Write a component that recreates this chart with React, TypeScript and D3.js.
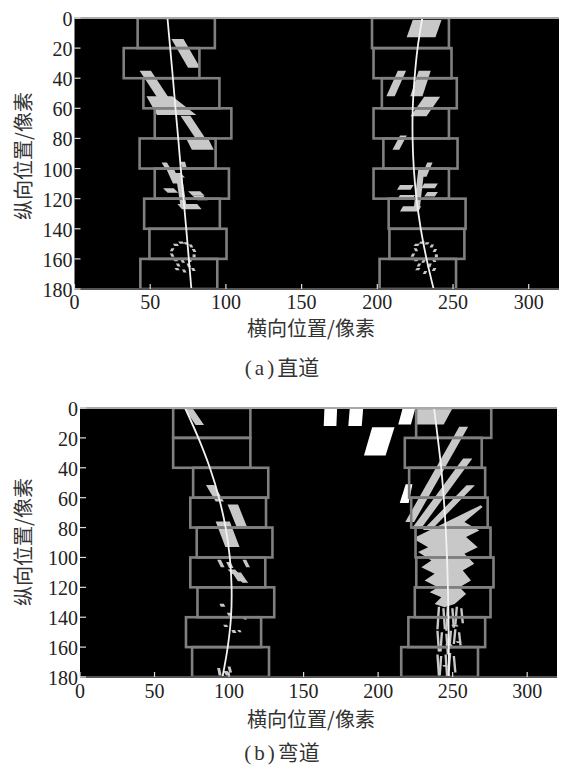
import React from "react";
import * as d3 from "d3";

const W = 562;
const H = 768;

const xTicks = [0, 50, 100, 150, 200, 250, 300];
const yTicks = [0, 20, 40, 60, 80, 100, 120, 140, 160, 180];
const windowTops = [0, 20, 40, 60, 80, 100, 120, 140, 160];
const fitY = [0, 20, 40, 60, 80, 100, 120, 140, 160, 180];

// (a) straight road: sliding windows, left / right edge per row
const straightLeftBoxL = [41.7, 32.5, 45.5, 53, 43, 53, 46, 49.5, 43.5];
const straightLeftBoxR = [92.7, 82.5, 95.7, 103.6, 93.2, 102, 96, 100.4, 94.3];
const straightRightBoxL = [196.5, 197.5, 203, 197.5, 204, 197.5, 207.5, 208, 201.5];
const straightRightBoxR = [247.3, 249, 252.5, 247.3, 253, 247.3, 258.3, 257.5, 252];
const straightLeftFit = [61.4, 63.2, 65, 66.7, 68.5, 70.2, 72, 73.8, 75.5, 77.2];
const straightRightFit = [229.7, 226.6, 224.6, 223.4, 223.3, 224.1, 225.9, 228.7, 232.5, 237.2];

// lane pixel blobs: [x, y, topWidth, height, shift, bottomWidth?]
const straightPixels = [
  [64, 14, 8, 19, 11],
  [43, 35, 7.5, 23, 15],
  [47.5, 52, 17, 12.5, 7, 26],
  [70, 65, 6.5, 15, 10],
  [73.5, 79.5, 14.5, 8, 4],
  [57.5, 96, 3.5, 5, 3],
  [70, 95.5, 3, 3.5, 1],
  [61, 101, 5, 9, 4],
  [64, 103, 6, 3, 3],
  [58.5, 113, 7, 3, 3],
  [67, 105, 4, 20, 3],
  [75, 115, 8, 3, 3],
  [78, 118, 7, 3, 3],
  [68, 123.5, 13, 3.5, 3],
  [65, 150, 3, 1.5, 1], [68.5, 148.5, 3, 1.5, 1], [72, 149, 2.5, 1.5, 1],
  [75.5, 150.5, 2, 2, 1], [77.5, 153.5, 2, 2, 1], [78, 157, 2, 2, 0],
  [64, 153, 2, 2, -1], [63, 156.5, 2, 2, 1], [65, 160, 2.5, 1.5, 1],
  [76, 160, 2, 2, -1], [70, 160.5, 2, 2, 1], [67, 163, 2, 2, 1],
  [74, 163, 2, 2.5, 1], [66, 166, 2.5, 1.5, 1], [77, 166, 2, 2, 1], [71, 167, 2, 2, 1],
  [223.4, 1.3, 19, 11.5, -4],
  [213.5, 35, 5.5, 17, -7.5],
  [227.3, 35, 8, 17, -5.5],
  [231, 52.3, 10.5, 13, -9],
  [215, 78, 4.5, 9.5, -5],
  [233, 96, 3.5, 9.5, -4],
  [215, 111, 9, 3, -2],
  [231, 110, 9, 3, -2],
  [215, 117.5, 10, 3, -2],
  [227, 101, 4, 26, -3],
  [217, 125, 12, 3.5, -2],
  [233, 115.5, 7, 3, -2],
  [225, 150, 3, 1.5, -1], [228.5, 148.5, 3, 1.5, -1], [232, 149, 2.5, 1.5, -1],
  [235.5, 150.5, 2, 2, -1], [237.5, 153.5, 2, 2, -1], [238, 157, 2, 2, 0],
  [224, 153, 2, 2, 1], [223, 156.5, 2, 2, -1], [225, 160, 2.5, 1.5, -1],
  [236, 160, 2, 2, 1], [230, 160.5, 2, 2, -1], [227, 163, 2, 2, -1],
  [234, 163, 2, 2.5, -1], [226, 166, 2.5, 1.5, -1], [237, 166, 2, 2, -1], [231, 168, 2, 2, -1],
];

// (b) curved road
const curveLeftBoxL = [62.5, 62.5, 75.9, 74, 78.3, 74, 78.8, 71.1, 75.2];
const curveLeftBoxR = [114.3, 114.3, 126.3, 124.8, 129.1, 124.3, 130.3, 121.5, 126.8];
const curveRightBoxL = [225.5, 217.9, 220.8, 222.2, 225.1, 225.6, 224.6, 220.3, 215.5];
const curveRightBoxR = [275.9, 269.5, 271.8, 273.5, 275.4, 277.4, 275.4, 271.8, 267];
const curveLeftFit = [70.5, 79.4, 87.1, 93.2, 97.7, 100.5, 101.7, 101.3, 99.1, 95.6];
const curveRightFit = [237.5, 240, 242.3, 244, 245.3, 246.2, 246.8, 247.2, 247.4, 247.5];

const curvePixels = [
  [69.8, 0, 5.6, 11.4, 7.8],
  [84.5, 51.5, 5.5, 11, 6.5],
  [99, 64.5, 7, 15, 6],
  [91, 76, 9.5, 17, 6.5],
  [92, 101.5, 2.5, 5, 2.5],
  [98, 103, 3, 4, 2],
  [109, 101.5, 2.5, 5, 2.5],
  [99, 108, 5, 3, 3],
  [102, 110, 6, 6, 4],
  [106, 114, 4, 3, 3],
  [93.5, 131, 3, 2, 1], [98.5, 137, 2.5, 2, 1], [96, 145, 2.5, 1.5, 1],
  [101.5, 148.5, 2.5, 2, 1], [105.5, 148.5, 2, 1.5, 1], [109, 139.5, 2, 2, 1],
  [92, 174, 2, 5, 1], [96, 176, 3, 3, 2], [99, 173, 2, 4, 1],
  [225, 0, 25, 11, 1, 18],
  [254.4, 12.5, 6, 63.8, -36.2],
  [257, 33.8, 6.2, 47, -34.5],
  [259.3, 51.7, 5.6, 30, -29.3],
  [240, 133, 1.6, 15, -1], [243, 134, 1.6, 14, 1], [246, 133, 1.6, 16, -1],
  [249, 134, 1.6, 13, 1], [252, 133, 1.6, 12, -1], [255, 134, 1.6, 10, 1],
  [239, 149, 1.6, 14, 1], [242, 150, 1.6, 13, -1], [245, 151, 1.6, 14, 1],
  [248, 149, 1.6, 12, -1], [251, 148, 1.6, 10, -1], [253.5, 150, 1.6, 9, 1],
  [239, 165, 1.6, 14, 1], [241.5, 166, 1.6, 13, -1], [244.5, 165, 1.6, 15, 1],
  [247.5, 164, 1.6, 12, -1], [250, 166, 1.6, 11, 1],
  [241, 140, 4, 1.2, 1], [249, 145, 4, 1.2, 1], [245, 158, 4, 1.2, 1], [252, 156, 3, 1.2, 1], [243, 172, 3, 1.2, 1],
];
const curveWhitePixels = [
  [164, 0, 8.5, 12, -0.5],
  [181, 0, 9, 12, -1],
  [216.5, 0, 8.5, 11, -3],
  [196, 12.8, 15, 19, -5.5, 14.5],
  [218.5, 51, 4.5, 12.5, -4, 6],
];
// the big saw-toothed blob of the right lane
const curveMass = [
  [268.9, 65], [270.1, 66.2], [257.9, 76.3], [267.9, 81.9], [259, 86.4], [266.8, 93.1],
  [257.9, 97.5], [264.5, 104.2], [256.8, 108.7], [262.3, 115.4], [254.6, 119.9], [259, 124.4],
  [251.3, 131.1], [244.6, 133.3], [237.9, 131.1], [242.4, 126.6], [234.6, 123.3], [240.1, 119.9],
  [231.2, 115.4], [237.9, 110.9], [229, 106.5], [235.7, 102], [226.8, 96.4], [233.5, 93.1],
  [225.7, 88.6], [226, 86],
];

const quad = (p, xs, ys) => {
  const [x, y, w, h, s, wb = w] = p;
  return [
    [x, y], [x + w, y], [x + s + wb, y + h], [x + s, y + h],
  ].map(([a, b]) => `${xs(a)},${ys(b)}`).join(" ");
};

const serif = "'Liberation Serif', 'Times New Roman', 'DejaVu Serif'";
const cjk = "'Noto Sans CJK SC', sans-serif";

const Panel = ({ x0, x1, y0, y1, lanes, fits, pixels, whites, mass, yLabelY, tickY, titleY, capY, tag, caption }) => {
  const xs = d3.scaleLinear().domain([0, 320]).range([x0, x1]);
  const ys = d3.scaleLinear().domain([0, 180]).range([y0, y1]);
  const line = d3.line().x((d) => xs(d[0])).y((d) => ys(d[1])).curve(d3.curveCatmullRom);
  const clipId = `clip-${tag}`;
  return (
    <g>
      <defs>
        <clipPath id={clipId}>
          <rect x={x0} y={y0} width={x1 - x0} height={y1 - y0} />
        </clipPath>
      </defs>
      <rect x={x0} y={y0} width={x1 - x0} height={y1 - y0} fill="#000" />
      <g clipPath={`url(#${clipId})`}>
        <g filter="url(#soft)">
          {pixels.map((p, i) => (
            <polygon key={"p" + i} points={quad(p, xs, ys)} fill="#c8c8c8" />
          ))}
          {mass && (
            <polygon points={mass.map((d) => `${xs(d[0])},${ys(d[1])}`).join(" ")} fill="#c8c8c8" />
          )}
          {whites && whites.map((p, i) => (
            <polygon key={"w" + i} points={quad(p, xs, ys)} fill="#ffffff" />
          ))}
          {lanes.map(([L, R], li) =>
            windowTops.map((t, i) => (
              <rect
                key={`b${li}-${i}`}
                x={xs(L[i])}
                y={ys(t)}
                width={xs(R[i]) - xs(L[i])}
                height={ys(t + 20) - ys(t)}
                fill="none"
                stroke="#808080"
                strokeWidth={2.6}
              />
            ))
          )}
          {fits.map((f, i) => (
            <path key={"f" + i} d={line(f.map((v, j) => [v, fitY[j]]))} fill="none" stroke="#f2f2f2" strokeWidth={1.8} />
          ))}
        </g>
      </g>
      <line x1={x0} x2={x1} y1={y0} y2={y0} stroke="#aaa" strokeWidth={2} />
      <line x1={x0} x2={x1} y1={y1} y2={y1} stroke="#555" strokeWidth={2} />
      {xTicks.map((t) => (
        <g key={"xt" + t}>
          <line x1={xs(t)} x2={xs(t)} y1={y1} y2={y1 - 5} stroke="#ddd" strokeWidth={1.2} />
          <text x={xs(t)} y={tickY} textAnchor="middle" fontFamily={serif} fontSize={20} fill="#222">{t}</text>
        </g>
      ))}
      {yTicks.map((t) => (
        <g key={"yt" + t}>
          <line x1={x0} x2={x0 + 6} y1={ys(t)} y2={ys(t)} stroke="#ddd" strokeWidth={1.2} />
          <text x={x0 - 2} y={ys(t) + 1} textAnchor="end" dominantBaseline="central" fontFamily={serif} fontSize={20} fill="#222">{t}</text>
        </g>
      ))}
      <text
        transform={`translate(22,${yLabelY}) rotate(-90)`}
        textAnchor="middle"
        dominantBaseline="central"
        fontFamily={cjk}
        fontSize={20}
        fill="#333"
      >
        纵向位置/像素
      </text>
      <text x={311} y={capY} textAnchor="middle" fontFamily={cjk} fontSize={20} fill="#333">
        横向位置/像素
      </text>
      <text x={282} y={titleY} textAnchor="middle" fontFamily={`${serif}, ${cjk}`} fontSize={21} fill="#333">
        <tspan letterSpacing={3}>({tag})</tspan>
        <tspan fontFamily={cjk}>{caption}</tspan>
      </text>
    </g>
  );
};

export default function App() {
  return (
    <svg width={W} height={H} style={{ position: "absolute", left: 0, top: 0, background: "#fff" }}>
      <defs>
        <filter id="soft" x="-5%" y="-5%" width="110%" height="110%">
          <feGaussianBlur stdDeviation={0.6} />
        </filter>
      </defs>
      <Panel
        tag="a"
        caption="直道"
        x0={74.5}
        x1={559}
        y0={18}
        y1={289}
        lanes={[[straightLeftBoxL, straightLeftBoxR], [straightRightBoxL, straightRightBoxR]]}
        fits={[straightLeftFit, straightRightFit]}
        pixels={straightPixels}
        whites={null}
        mass={null}
        yLabelY={156}
        tickY={309}
        capY={336}
        titleY={375}
      />
      <Panel
        tag="b"
        caption="弯道"
        x0={80}
        x1={557}
        y0={408}
        y1={677}
        lanes={[[curveLeftBoxL, curveLeftBoxR], [curveRightBoxL, curveRightBoxR]]}
        fits={[curveLeftFit, curveRightFit]}
        pixels={curvePixels}
        whites={curveWhitePixels}
        mass={curveMass}
        yLabelY={542}
        tickY={698}
        capY={727}
        titleY={760}
      />
    </svg>
  );
}
